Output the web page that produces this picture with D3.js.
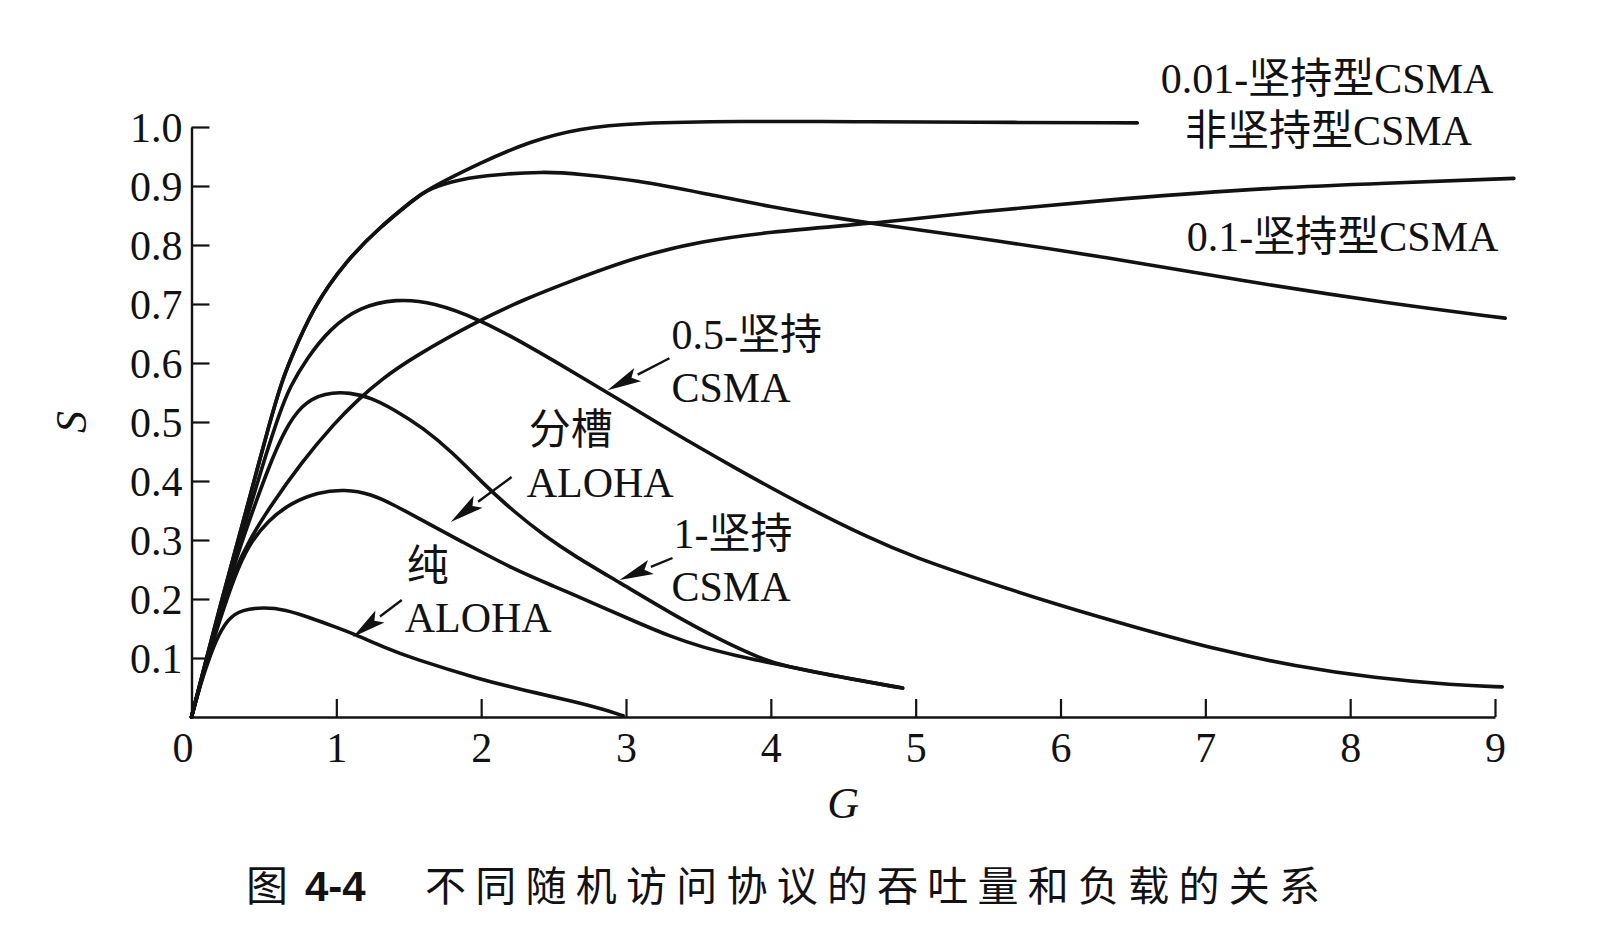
<!DOCTYPE html>
<html><head><meta charset="utf-8">
<script src="https://cdn.jsdelivr.net/npm/d3@7"></script>
<style>html,body{margin:0;padding:0;background:#fff;}svg{display:block;}</style>
</head><body>
<svg id="c" width="1605" height="939"></svg>
<script>
// ---- data (G = offered load, S = throughput) ----
const xTicks = [0,1,2,3,4,5,6,7,8,9];
const yTicks = [0.1,0.2,0.3,0.4,0.5,0.6,0.7,0.8,0.9,1.0];

const pureAloha = [[0,0],[0.05,0.045],[0.093,0.078],[0.162,0.128],[0.254,0.168],[0.35,0.182],[0.5,0.186],[0.65,0.182],[0.8,0.17],[0.99,0.153],[1.13,0.14],[1.33,0.118],[1.53,0.099],[1.99,0.064],[2.3,0.045],[2.65,0.026],[2.86,0.012],[2.98,0.002]];
const slottedAloha = [[0,0],[0.1,0.09],[0.2,0.168],[0.3,0.24],[0.39,0.29],[0.53,0.334],[0.69,0.363],[0.87,0.381],[1.06,0.386],[1.24,0.378],[1.4,0.359],[1.53,0.342],[1.875,0.296],[2.22,0.251],[2.5,0.222],[2.8,0.19],[3.07,0.161],[3.3,0.137],[3.53,0.118],[3.76,0.104],[3.99,0.092],[4.45,0.069],[4.91,0.049]];
const persist1 = [[0,0],[0.1,0.094],[0.2,0.18],[0.3,0.262],[0.4,0.334],[0.53,0.422],[0.64,0.485],[0.76,0.53],[0.92,0.55],[1.1,0.55],[1.24,0.541],[1.4,0.521],[1.6,0.49],[1.8,0.449],[2.0,0.399],[2.22,0.349],[2.45,0.305],[2.65,0.272],[2.955,0.228],[3.3,0.177],[3.645,0.131],[3.94,0.098],[4.1,0.086],[4.45,0.069],[4.91,0.049]];
const persist05 = [[0,0],[0.1,0.095],[0.2,0.185],[0.3,0.27],[0.4,0.352],[0.5,0.434],[0.61,0.517],[0.68,0.56],[0.794,0.607],[0.955,0.658],[1.162,0.695],[1.415,0.709],[1.67,0.703],[1.99,0.674],[2.335,0.628],[2.68,0.578],[3.0,0.531],[3.3,0.486],[3.76,0.421],[4.22,0.359],[4.68,0.303],[5.0,0.27],[5.44,0.233],[5.98,0.19],[6.53,0.151],[7.08,0.114],[7.62,0.086],[8.17,0.066],[8.72,0.054],[9.05,0.051]];
const persist01 = [[0,0],[0.1,0.093],[0.2,0.175],[0.3,0.25],[0.4,0.3],[0.53,0.352],[0.76,0.432],[0.99,0.499],[1.15,0.538],[1.31,0.572],[1.53,0.61],[1.99,0.673],[2.3,0.708],[2.61,0.738],[3.07,0.78],[3.53,0.807],[3.99,0.822],[4.56,0.834],[4.91,0.842],[5.37,0.855],[6.3,0.876],[7.28,0.895],[8.27,0.905],[9.13,0.913]];
const persist001 = [[0,0],[0.1,0.096],[0.2,0.19],[0.3,0.28],[0.4,0.37],[0.54,0.5],[0.63,0.573],[0.68,0.604],[0.84,0.695],[1.07,0.774],[1.3,0.83],[1.53,0.876],[1.62,0.893],[2.0,0.94],[2.34,0.976],[2.68,0.998],[3.07,1.007],[3.76,1.01],[4.6,1.009],[5.38,1.008],[6.53,1.007]];
const nonPersist = [[0,0],[0.1,0.096],[0.2,0.19],[0.3,0.28],[0.4,0.37],[0.54,0.5],[0.63,0.573],[0.68,0.604],[0.84,0.695],[1.07,0.774],[1.3,0.83],[1.53,0.876],[1.62,0.893],[1.8,0.908],[2.0,0.918],[2.45,0.925],[2.68,0.92],[3.07,0.91],[3.53,0.888],[3.99,0.865],[4.45,0.846],[4.68,0.837],[5.37,0.814],[6.3,0.78],[7.28,0.738],[8.27,0.701],[9.07,0.676]];

const series = [pureAloha, slottedAloha, persist1, persist05, persist01, persist001, nonPersist];

// labels and their anchor positions (G, S)
const labelTexts = ["0.01-坚持型CSMA","非坚持型CSMA","0.1-坚持型CSMA","0.5-坚持","CSMA","分槽","ALOHA","1-坚持","CSMA","纯","ALOHA"];
const labelG = [6.693,6.859,6.872,3.314,3.314,2.328,2.314,3.328,3.314,1.486,1.472];
const labelS = [1.0576,0.9695,0.7898,0.6237,0.5339,0.4627,0.3729,0.2864,0.1966,0.233,0.1441];
// arrows: [fromG, fromS, tipG, tipS]
const arrows = [[3.30,0.608,2.872,0.554],[2.21,0.4068,1.79,0.3305],[3.321,0.2695,2.955,0.2322],[1.452,0.1983,1.114,0.1356]];

const titleFig = "图";
const titleNum = "4-4";
const titleText = "不同随机访问协议的吞吐量和负载的关系";

// ---- drawing ----
const ink = "#121212";
const serif = "'Liberation Serif','Noto Sans CJK SC',serif";
const svg = d3.select("#c");
svg.append("rect").attr("width",1605).attr("height",939).attr("fill","#fff");

const x = d3.scaleLinear().domain([0,9]).range([191.5,1495]);
const y = d3.scaleLinear().domain([0,1]).range([717,127]);

const yAxis = d3.axisLeft(y).tickValues(yTicks).tickSizeInner(-18).tickSizeOuter(0).tickFormat(d3.format(".1f"));
const gy = svg.append("g").attr("transform",`translate(${x(0)},0)`).call(yAxis);
gy.select(".domain").attr("stroke",ink).attr("stroke-width",2.4);
gy.selectAll(".tick line").attr("stroke",ink).attr("stroke-width",2.2);
gy.selectAll(".tick text").attr("font-family",serif).attr("font-size",42).attr("fill",ink)
  .attr("x",-9).attr("dy","0.35em");

const xAxis = d3.axisBottom(x).tickValues(xTicks).tickSizeInner(-18).tickSizeOuter(0).tickFormat(d3.format("d"));
const gx = svg.append("g").attr("transform",`translate(0,${y(0)})`).call(xAxis);
gx.select(".domain").attr("stroke",ink).attr("stroke-width",2.4);
gx.selectAll(".tick line").attr("stroke",ink).attr("stroke-width",2.2);
gx.selectAll(".tick").filter(d=>d===0).select("line").remove();
gx.selectAll(".tick text").attr("font-family",serif).attr("font-size",42).attr("fill",ink)
  .attr("y",45).attr("dy",0).attr("x",d=>d===0?-9:0);

// axis titles
svg.append("text").attr("transform",`translate(86,${y(0.5)}) rotate(-90)`)
  .attr("text-anchor","middle").attr("font-family",serif).attr("font-style","italic")
  .attr("font-size",44).attr("fill",ink).text("S");
svg.append("text").attr("x",x(4.5)).attr("y",818)
  .attr("text-anchor","middle").attr("font-family",serif).attr("font-style","italic")
  .attr("font-size",44).attr("fill",ink).text("G");

// curves
const line = d3.line().x(d=>x(d[0])).y(d=>y(d[1])).curve(d3.curveBasis);
svg.append("g").selectAll("path").data(series).join("path")
  .attr("d",line).attr("fill","none").attr("stroke",ink).attr("stroke-width",3.6)
  .attr("stroke-linecap","round").attr("stroke-linejoin","round");

// labels
svg.append("g").selectAll("text").data(labelTexts).join("text")
  .attr("x",(d,i)=>x(labelG[i])).attr("y",(d,i)=>y(labelS[i]))
  .attr("font-family",serif).attr("font-size",42).attr("fill",ink).text(d=>d);

// arrows
const ga = svg.append("g");
arrows.forEach(a=>{
  const x1=x(a[0]), y1=y(a[1]), x2=x(a[2]), y2=y(a[3]);
  const dx=x2-x1, dy=y2-y1, L=Math.hypot(dx,dy), ux=dx/L, uy=dy/L;
  const hl=34, hw=7.5;
  const bx=x2-ux*hl, by=y2-uy*hl;
  ga.append("line").attr("x1",x1).attr("y1",y1).attr("x2",bx).attr("y2",by)
    .attr("stroke",ink).attr("stroke-width",2.4);
  ga.append("polygon").attr("points",[[x2,y2],[bx-uy*hw,by+ux*hw],[bx+ux*7,by+uy*7],[bx+uy*hw,by-ux*hw]].map(p=>p.join(",")).join(" "))
    .attr("fill",ink);
});

// caption
const cap = svg.append("g").attr("fill",ink);
cap.append("text").attr("x",246).attr("y",901).attr("font-family","'Noto Sans CJK SC',sans-serif")
  .attr("font-size",42).text(titleFig);
cap.append("text").attr("x",305).attr("y",901).attr("font-family","'Liberation Sans',sans-serif")
  .attr("font-weight","bold").attr("font-size",42).text(titleNum);
cap.append("text").attr("x",425).attr("y",901).attr("font-family","'Noto Sans CJK SC',sans-serif")
  .attr("font-size",41).attr("textLength",895).attr("lengthAdjust","spacing").text(titleText);
</script>
</body></html>
